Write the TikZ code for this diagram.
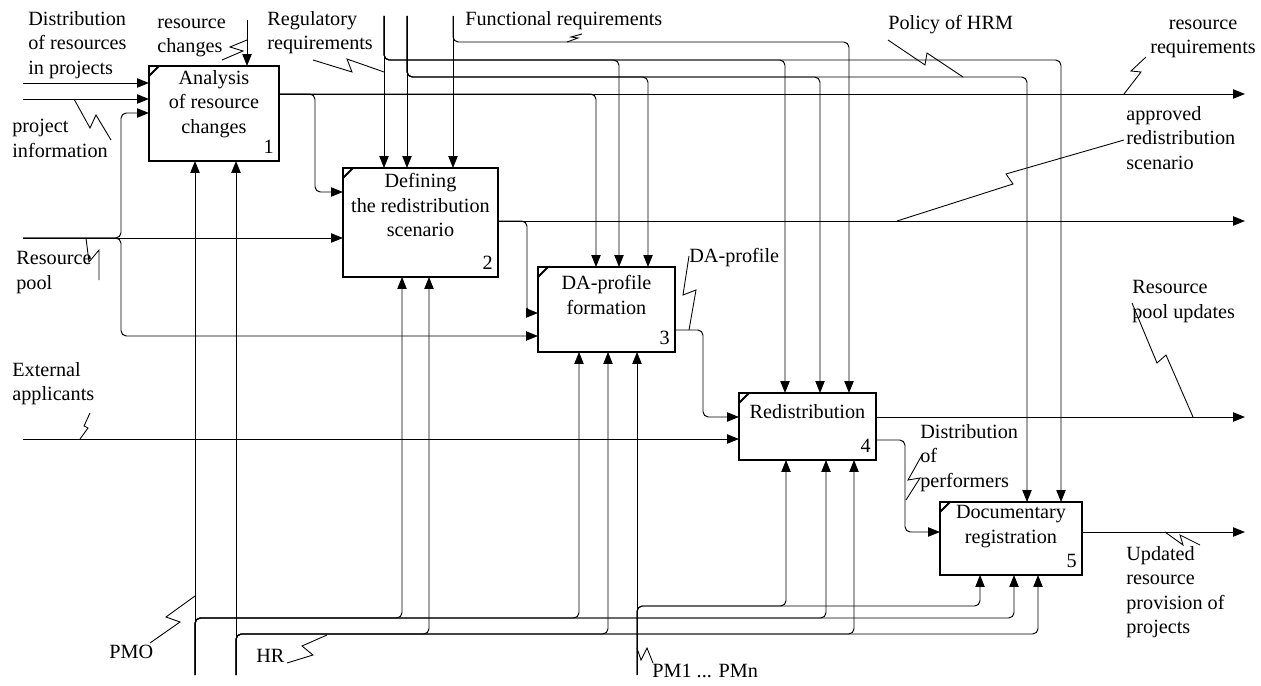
\documentclass[tikz,border=0pt]{standalone}
\usepackage{fontspec}
\setmainfont{Liberation Serif}
\usetikzlibrary{arrows.meta,calc,positioning}
\newcommand{\labfont}{\fontsize{11.5}{13.9}\selectfont}
\tikzset{
  proc/.style={draw, line width=1.1pt, inner sep=0pt, outer sep=0pt, anchor=north west},
  ptitle/.style={align=center, anchor=north, inner sep=0pt, font=\labfont},
  lab/.style={align=left, anchor=north west, inner sep=0pt, font=\labfont},
  pnum/.style={anchor=base east, inner sep=0pt, font=\labfont},
  arr/.style={line width=0.55pt, rounded corners=3pt, -{Triangle[length=6.8pt,width=5.3pt]}},
  squig/.style={line width=0.5pt},
}

\begin{document}
\begin{tikzpicture}[x=0.02cm, y=-0.02cm]
\useasboundingbox (0,0) rectangle (1261,686);
%--- blocchi ---
\node[proc, minimum width=2.6cm,  minimum height=1.9cm]  (b1) at (149,66)  {};
\node[proc, minimum width=3.1cm,  minimum height=2.18cm] (b2) at (343,168) {};
\node[proc, minimum width=2.74cm, minimum height=1.7cm]  (b3) at (538,267) {};
\node[proc, minimum width=2.74cm, minimum height=1.34cm] (b4) at (739,393) {};
\node[proc, minimum width=2.84cm, minimum height=1.46cm] (b5) at (940,502) {};
\foreach \b in {b1,b2,b3,b4,b5}{
  \draw[line width=1.1pt] ([shift={(0,10)}]\b.north west) -- ([shift={(10,0)}]\b.north west);
}
\node[ptitle] (t1) at ($(b1.north)+(0,4)$) {Analysis\\of resource\\changes};
\node[ptitle] (t2) at ($(b2.north)+(0,5)$) {Defining\\the redistribution\\scenario};
\node[ptitle] (t3) at ($(b3.north)+(0,8)$) {DA-profile\\formation};
\node[ptitle] (t4) at ($(b4.north)+(0,11)$) {Redistribution};
\node[ptitle] (t5) at ($(b5.north)+(0,3)$) {Documentary\\registration};
\foreach \b/\n in {b1/1,b2/2,b3/3,b4/4,b5/5}{
  \node[pnum] (n\n) at ([shift={(-5,-7)}]\b.south east) {\n};
}

%--- estremi liberi ---
\coordinate (inDist) at (23,83);
\coordinate (inProj) at (23,99);
\coordinate (inPool) at (23,238);
\coordinate (inExt)  at (23,439);
\coordinate (cChg)   at (247,20);
\coordinate (cReg)   at (384,16);
\coordinate (cHrm)   at (407,16);
\coordinate (cFun)   at (453,16);
\coordinate (mPmo)   at (195,675);
\coordinate (mHr)    at (236,675);
\coordinate (mPm)    at (637,675);
\coordinate (oReq)   at (1245,94);
\coordinate (oScn)   at (1245,221);
\coordinate (oPool)  at (1245,417);
\coordinate (oUpd)   at (1245,532);

%--- ingressi ---
\draw[arr] (inDist) -- (b1.west |- inDist);
\draw[arr] (inProj) -- (b1.west |- inProj);
\draw[arr] (inPool) -- (b2.west |- inPool);
\draw[arr] (inPool) -| (121,113) -- (b1.west |- 0,113);
\draw[arr] (inPool) -| (121,336) -- (b3.west |- 0,336);
\draw[arr] (inExt) -- (b4.west |- inExt);

%--- controlli ---
\draw[arr] (cChg) -- (b1.north -| cChg);
\draw[arr] (cReg) -- (b2.north -| cReg);
\draw[arr] (cHrm) -- (b2.north -| cHrm);
\draw[arr] (cFun) -- (b2.north -| cFun);
\foreach \bx/\xx in {b3/619,b4/785,b5/1061}{
  \draw[arr] (cReg) |- (\xx,60) -- (\bx.north -| \xx,0);
}
\foreach \bx/\xx in {b3/648,b4/820,b5/1027}{
  \draw[arr] (cHrm) |- (\xx,77) -- (\bx.north -| \xx,0);
}
\draw[arr] (cFun) |- (849,42) -- (b4.north -| 849,0);

%--- uscite ---
\draw[arr] (b1.east |- oReq) -- (oReq);
\draw[arr] (b1.east |- oReq) -| (315,192) -- (b2.west |- 0,192);
\draw[arr] (b1.east |- oReq) -| (b3.north -| 596,0);
\draw[arr] (b2.east |- oScn) -- (oScn);
\draw[arr] (b2.east |- oScn) -| (527,313) -- (b3.west |- 0,313);
\draw[arr] (b3.east |- 0,330) -| (703,417) -- (b4.west |- 0,417);
\draw[arr] (b4.east |- oPool) -- (oPool);
\draw[arr] (b4.east |- 0,440) -| (905,532) -- (b5.west |- 0,532);
\draw[arr] (b5.east |- oUpd) -- (oUpd);

%--- meccanismi ---
\draw[arr] (mPmo) -- (b1.south -| mPmo);
\draw[arr] (mHr) -- (b1.south -| mHr);
\draw[arr] (mPm) -- (b3.south -| mPm);
\foreach \bx/\xx in {b2/402,b3/579,b4/826,b5/1014}{
  \draw[arr] (mPmo) |- (\xx,618) -- (\bx.south -| \xx,0);
}
\foreach \bx/\xx in {b2/429,b3/608,b4/854,b5/1038}{
  \draw[arr] (mHr) |- (\xx,634) -- (\bx.south -| \xx,0);
}
\foreach \bx/\xx in {b4/786,b5/980}{
  \draw[arr] (mPm) |- (\xx,606) -- (\bx.south -| \xx,0);
}

%--- etichette ---
\node[lab] (lDist) at (28,11)    {Distribution\\of resources\\in projects};
\node[lab] (lChg)  at (157,11)   {\strut resource\\changes};
\node[lab] (lReg)  at (267,11)   {Regulatory\\requirements};
\node[lab] (lFun)  at (465,11)   {Functional requirements};
\node[lab] (lHrm)  at (888,15)   {Policy of HRM};
\node[ptitle] (lReq) at (1203,12) {\strut resource\\requirements};
\node[lab] (lScn)  at (1126,106) {approved\\redistribution\\scenario};
\node[lab] (lProj) at (12,119)   {project\\information};
\node[lab] (lPool) at (16,251)   {Resource\\pool};
\node[lab] (lExt)  at (12,362)   {External\\applicants};
\node[lab] (lDa)   at (689,248)  {DA-profile};
\node[lab] (lRpu)  at (1132,280) {Resource\\pool updates};
\node[lab] (lPerf) at (920,424)  {Distribution\\of\\performers};
\node[lab] (lUpd)  at (1126,546) {Updated\\resource\\provision of\\projects};
\node[lab] (lPmo)  at (109,645)  {PMO};
\node[lab] (lHr)   at (256,649)  {HR};
\node[lab] (lPm)   at (652,664)  {PM1 ... PMn};

% fulmini
\draw[squig] (74,99) -- (90,128) -- (96,115) -- (111,140);
\draw[squig] (222,60) -- (243,51) -- (230,47) -- (247,40);
\draw[squig] (313,60) -- (352,72) -- (347,59) -- (384,72);
\draw[squig] (567,42) -- (578,38) -- (571,37) -- (582,34);
\draw[squig] (888,40) -- (925,65) -- (927,53) -- (963,77);
\draw[squig] (1124,94) -- (1141,72) -- (1131,71) -- (1146,57);
\draw[squig] (897,221) -- (1013,184) -- (1006,174) -- (1124,140);
\draw[squig] (86,238) -- (89,262) -- (99,250) -- (99,280);
\draw[squig] (80,439) -- (88,428) -- (84,426) -- (90,413);
\draw[squig] (689,330) -- (696,290) -- (683,295) -- (689,256);
\draw[squig] (1132,303) -- (1157,363) -- (1166,355) -- (1193,417);
\draw[squig] (906,500) -- (920,478) -- (908,480) -- (922,455);
\draw[squig] (1165,532) -- (1183,545) -- (1180,535) -- (1200,545);
\draw[squig] (150,643) -- (180,622) -- (166,617) -- (195,596);
\draw[squig] (287,663) -- (313,655) -- (302,646) -- (327,635);
\draw[squig] (637,648) -- (641,660) -- (647,648) -- (653,663);
\end{tikzpicture}
\end{document}
